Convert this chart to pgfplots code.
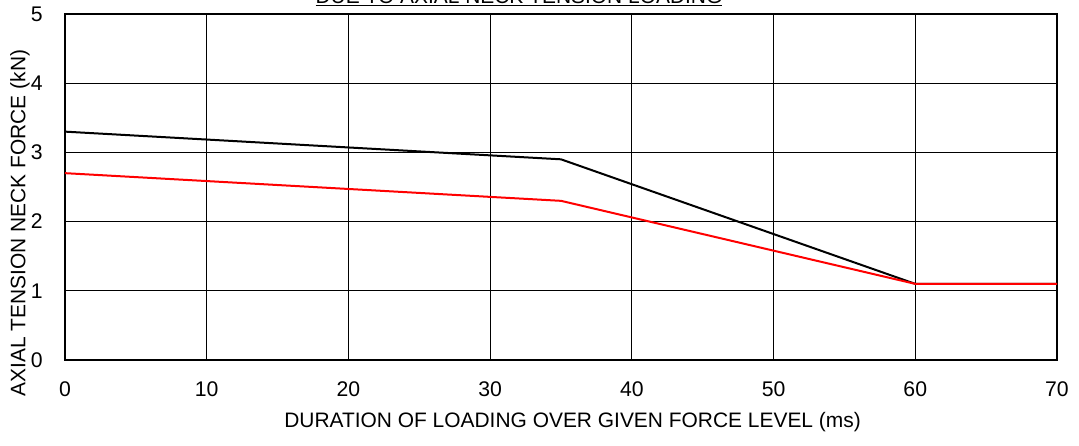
\documentclass[border=0pt]{standalone}
\usepackage{fontspec}
\setmainfont{Liberation Sans}
\usepackage{pgfplots}
\pgfplotsset{compat=1.18}
\begin{document}
\fontsize{15.7}{19}\selectfont
\begin{tikzpicture}
\useasboundingbox (0,0) rectangle (809.25pt,334.5pt);
\clip (0,0) rectangle (809.25pt,334.5pt);
\begin{axis}[
  at={(48.75pt,64.5pt)}, anchor=south west,
  scale only axis, width=744pt, height=259.5pt,
  xmin=0, xmax=70, ymin=0, ymax=5,
  xtick={0,10,...,70}, ytick={0,1,...,5},
  major tick length=0pt,
  grid=major,
  major grid style={black, line width=0.8pt},
  axis line style={black, line width=1pt},
  /pgf/number format/assume math mode=true,
  xticklabel style={anchor=center, inner sep=0pt, yshift=-22pt, font=\fontsize{15.9}{19}\selectfont},
  yticklabel style={anchor=east, inner sep=0pt, xshift=-16.5pt, font=\fontsize{15.9}{19}\selectfont},
  clip=false,
]
\addplot[black, line width=1.5pt] coordinates {(0,3.3) (35,2.9) (60,1.1) (70,1.1)};
\addplot[red, line width=1.5pt] coordinates {(0,2.7) (35,2.3) (60,1.1) (70,1.1)};
\end{axis}
\node[rotate=90, inner sep=0pt] at (15pt,167.25pt) {AXIAL TENSION NECK FORCE (kN)};
\node[inner sep=0pt] at (429.4pt,17.6pt) {DURATION OF LOADING OVER GIVEN FORCE LEVEL (ms)};
\node[anchor=base, inner sep=0pt] at (389.25pt,331.9pt) {\underline{DUE TO AXIAL NECK TENSION LOADING}};
\end{tikzpicture}
\end{document}
